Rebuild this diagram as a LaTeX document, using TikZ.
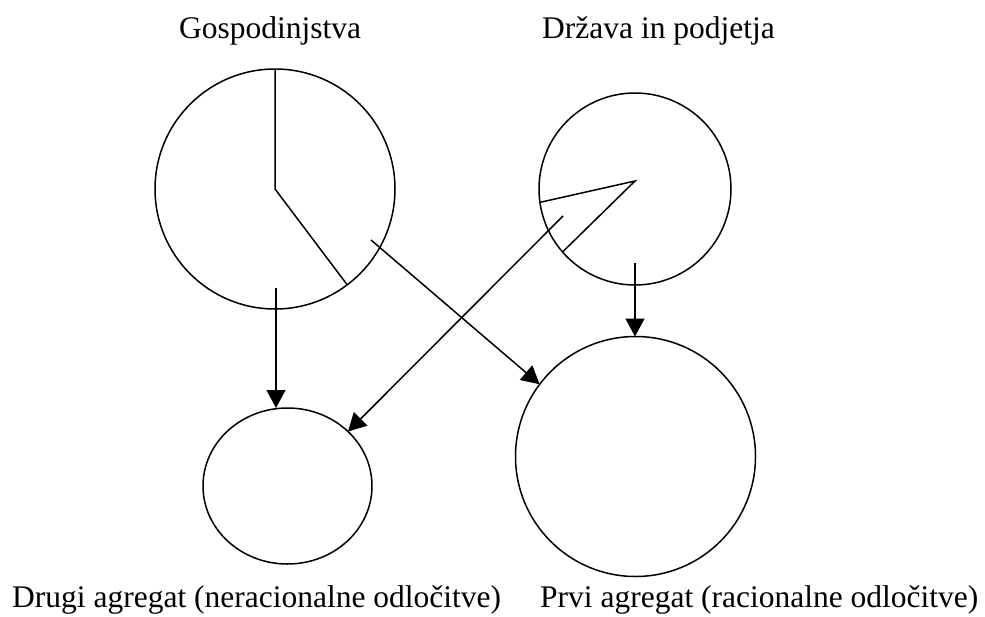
\documentclass[tikz,border=0pt]{standalone}
\usepackage{fontspec}
\setmainfont{Liberation Serif}
\usetikzlibrary{arrows.meta,shapes.geometric}
\begin{document}
\begin{tikzpicture}[x=1pt,y=-1pt,
  ring/.style={circle,draw,line width=1.5pt,inner sep=0pt,outer sep=0pt},
  oval/.style={ellipse,draw,line width=1.5pt,inner sep=0pt,outer sep=0pt},
  lbl/.style={inner sep=0pt,anchor=base west,font=\fontsize{31.5}{36}\selectfont},
  conn/.style={line width=1.5pt,-{Triangle[length=18pt,width=19pt]}},
  pie/.style={line width=1.5pt}]
\useasboundingbox (0,0) rectangle (985,616);
% circles
\node[ring,minimum size=240pt] (c1) at (275,189) {};
\node[ring,minimum size=192pt] (c2) at (635,189) {};
\node[oval,minimum width=169pt,minimum height=156pt] (c3) at (287.5,486) {};
\node[ring,minimum size=240pt] (c4) at (635.5,456.5) {};
% labels
\node[lbl] (t1) at (179,38) {Gospodinjstva};
\node[lbl] (t2) at (542,38) {Država in podjetja};
\node[lbl] (t3) at (12,607.5) {Drugi agregat (neracionalne odločitve)};
\node[lbl] (t4) at (540,607.5) {Prvi agregat (racionalne odločitve)};
% pie lines
\draw[pie] (c1.north) -- (c1.center) -- (c1.-53.13);
\coordinate (p2) at (635,181);
\draw[pie] (c2.188.9) -- (p2) -- (c2.221.6);
% connectors
\coordinate (s1) at (276,288);
\coordinate (s2) at (635,263);
\coordinate (s3) at (371,240);
\coordinate (s4) at (563,216);
\draw[conn] (s1) -- (s1 |- c3.north);
\draw[conn] (s2) -- (s2 |- c4.north);
\draw[conn] (s3) -- (c4.143.3);
\draw[conn] (s4) -- (c3.42);
\end{tikzpicture}
\end{document}
